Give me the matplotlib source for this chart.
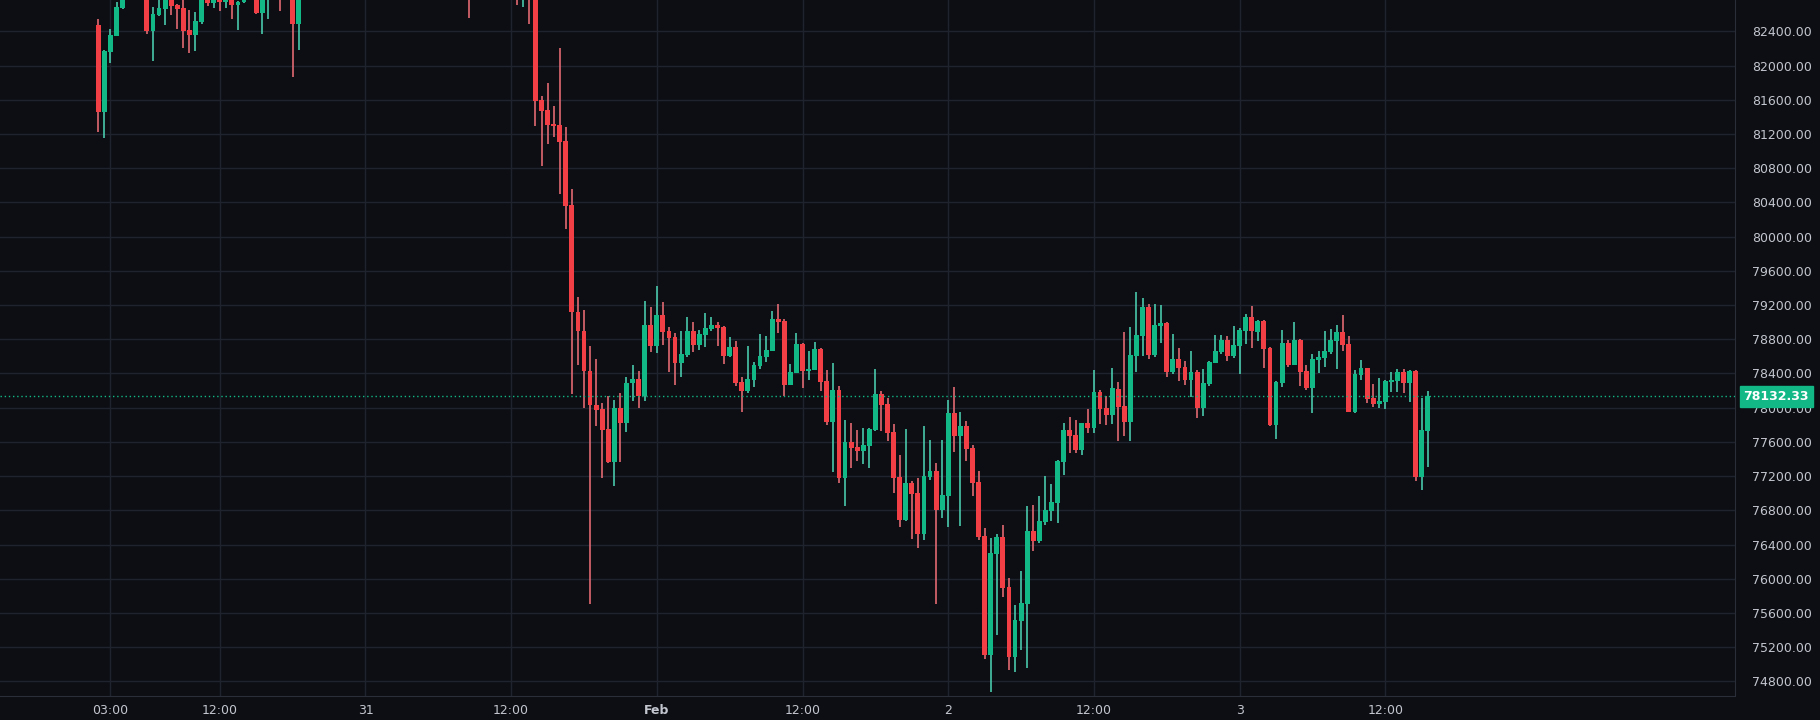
import matplotlib
matplotlib.use("Agg")
import matplotlib.pyplot as plt
import numpy as np

# 30-minute candles from Jan 30 02:00 to Feb 3 15:30 (index 0..219)
ohlc_rows = [
(82470,82540,81222,81456),(81456,82180,81152,82166),(82158,82423,82030,82353),(82345,82740,82340,82681),
(82670,83000,82660,82900),(82900,83150,82850,83050),(83050,83200,82900,82980),(82980,83100,82850,82900),
(82900,83000,82370,82400),(82400,82680,82050,82600),(82587,82800,82580,82670),(82657,82850,82470,82780),
(82790,82850,82587,82696),(82704,82720,82423,82657),(82670,82780,82205,82400),(82412,82646,82143,82353),
(82353,82622,82166,82517),(82505,82850,82482,82770),(82780,82850,82692,82727),(82727,82850,82670,82780),
(82790,82850,82634,82740),(82740,82850,82670,82790),(82790,82850,82540,82704),(82704,82760,82412,82740),
(82740,82900,82727,82820),(82820,82950,82800,82880),(82880,82950,82600,82610),(82610,82850,82365,82810),
(82810,82950,82540,82900),(82900,83050,82850,82980),(82980,83050,82634,82900),(82900,83000,82820,82920),
(82920,83000,81862,82482),(82482,82900,82178,82850),(82850,83000,82800,82950),(82950,83100,82900,83050),
(83050,83150,82980,83000),(83000,83120,82950,83080),(83080,83250,83050,83200),(83200,83300,83100,83150),
(83150,83250,83050,83100),(83100,83200,83000,83180),(83180,83350,83150,83300),(83300,83400,83200,83250),
(83250,83300,83100,83150),(83150,83250,83050,83200),(83200,83300,83100,83120),(83120,83200,83000,83050),
(83050,83150,82950,83100),(83100,83250,83050,83220),(83220,83300,83150,83180),(83180,83250,83050,83080),
(83080,83150,82950,83000),(83000,83100,82900,83060),(83060,83200,83000,83150),(83150,83250,83080,83100),
(83100,83150,82950,82980),(82980,83050,82880,82950),(82950,83080,82900,83020),(83020,83100,82920,82960),
(82960,83050,82850,82900),(82900,83000,82558,82850),(82850,82950,82800,82900),(82900,83000,82850,82950),
(82950,83050,82880,82920),(82920,83000,82850,82880),(82880,82950,82820,82900),(82900,82980,82830,82850),
(82850,82950,82800,82820),(82820,82900,82711,82765),(82765,82850,82687,82800),(82800,82850,82481,82765),
(82800,82850,81295,81591),(81596,81639,80826,81472),(81481,81797,81084,81309),(81314,81524,81161,81295),
(81304,82204,80500,81108),(81118,81280,80089,80357),(80366,80553,78156,79118),(79122,79299,78496,78893),
(78902,79146,77993,78424),(78433,78725,75706,78027),(78031,78572,77792,77979),(77984,78055,77180,77744),
(77749,78137,77357,77371),(77371,78089,77089,77993),(77998,78175,77371,77826),(77826,78362,77720,78290),
(78285,78505,78074,78338),(78338,78433,77993,78141),(78141,79242,78074,78972),(78972,79183,78648,78726),
(78726,79428,78637,79089),(79089,79230,78738,78890),(78902,78949,78418,78820),(78832,78878,78270,78528),
(78528,78902,78364,78633),(78621,79066,78598,78902),(78902,79007,78656,78738),(78738,78914,78680,78867),
(78855,79109,78715,78937),(78925,79066,78902,78972),(78972,79007,78726,78937),(78949,78960,78516,78609),
(78609,78832,78598,78715),(78715,78785,78258,78293),(78305,78364,77954,78200),(78200,78726,78177,78340),
(78329,78539,78247,78504),(78492,78867,78457,78609),(78598,78843,78539,78680),(78668,79136,78660,79042),
(79042,79218,78878,79007),(79019,79042,78141,78270),(78270,78516,78260,78422),(78410,78878,78400,78750),
(78750,78762,78235,78434),(78434,78668,78328,78457),(78446,78773,78440,78691),(78691,78703,78200,78305),
(78317,78446,77802,77837),(77837,78528,77250,78212),(78212,78258,77120,77180),(77180,77860,76850,77595),
(77595,77822,77300,77525),(77537,77744,77380,77490),(77491,77760,77339,77562),(77550,77760,77292,77749),
(77737,78450,77725,78158),(78158,78193,77725,78030),(78041,78111,77608,77702),(77714,77807,76999,77175),
(77187,77444,76602,76684),(76684,77749,76680,77117),(77117,77140,76462,76988),(76999,77175,76356,76520),
(76520,77784,76450,77199),(77187,77620,77152,77257),(77257,77351,75701,76801),(76801,77620,76707,76977),
(76965,78088,76602,77936),(77936,78240,77480,77667),(77667,77948,76614,77784),(77784,77842,77374,77515),
(77526,77562,76965,77117),(77129,77257,76450,76485),(76497,76590,75058,75104),(75104,76473,74672,76298),
(76286,76520,75339,76485),(76485,76626,75783,75888),(75900,76005,74929,75081),(75081,75690,74906,75514),
(75503,76087,75163,75713),(75701,76848,74952,76555),(76555,76860,76321,76438),(76438,76965,76415,76672),
(76661,77199,76626,76801),(76790,77105,76672,76895),(76883,77386,76649,77374),(77363,77819,77210,77737),
(77737,77889,77468,77667),(77679,77854,77468,77503),(77503,77819,77445,77819),(77819,77983,77702,77760),
(77760,78439,77702,78182),(78182,78205,77807,77983),(77994,78135,77796,77912),(77912,78462,77807,78228),
(78221,78303,77613,78010),(78022,78888,77671,77835),(77835,78946,77613,78619),(78607,79356,78420,78853),
(78841,79286,78607,79181),(79181,79216,78572,78619),(78619,79216,78595,78970),(78958,79204,78759,78993),
(78993,79000,78362,78420),(78420,78865,78397,78572),(78572,78701,78315,78467),(78479,78549,78268,78326),
(78326,78666,78127,78420),(78420,78443,77882,77999),(77999,78455,77905,78291),(78280,78549,78256,78537),
(78525,78853,78520,78666),(78654,78853,78631,78795),(78795,78841,78549,78607),(78607,78958,78584,78736),
(78724,78935,78397,78911),(78900,79099,78748,79064),(79064,79192,78701,78900),(78888,79028,78783,79017),
(79017,79020,78467,78689),(78701,78713,77788,77800),(77800,78310,77636,78303),(78291,78911,78245,78759),
(78759,78794,78479,78502),(78502,79005,78495,78794),(78794,78806,78256,78420),(78432,78502,78209,78233),
(78233,78631,77940,78572),(78560,78666,78408,78595),(78584,78900,78479,78666),(78654,78923,78631,78795),
(78783,78970,78455,78888),(78888,79087,78666,78736),(78748,78841,77952,77952),(77952,78443,77940,78397),
(78385,78560,78326,78467),(78467,78470,78057,78104),(78116,78280,78010,78046),(78046,78350,77999,78081),
(78069,78326,77987,78315),(78303,78420,78186,78326),(78315,78455,78186,78420),(78420,78455,78174,78291),
(78291,78435,78069,78432),(78432,78435,77145,77191),(77191,78116,77039,77742),(77730,78198,77308,78132.33),
]
opens = [r[0] for r in ohlc_rows]
highs = [r[1] for r in ohlc_rows]
lows = [r[2] for r in ohlc_rows]
closes = [r[3] for r in ohlc_rows]

tick_positions = [2, 20, 44, 68, 92, 116, 140, 164, 188, 212]
tick_labels = ["03:00", "12:00", "31", "12:00", "Feb", "12:00", "2", "12:00", "3", "12:00"]
price_ticks = list(range(74800, 82401, 400))
last_price = closes[-1]

BG = "#0c0e13"
GRID = "#1f232d"
TXT = "#c3c6ce"
UP, DOWN = "#12b886", "#f23f45"
UPW, DOWNW = "#4fd8b8", "#f2707a"

fig = plt.figure(figsize=(18.2, 7.2), dpi=100, facecolor=BG)
ax = fig.add_axes([0, 24/720, 1735/1820, 696/720], facecolor=BG)

o = np.array(opens); h = np.array(highs); l = np.array(lows); c = np.array(closes)
x = np.arange(len(o))
up = c >= o
ax.vlines(x[up], l[up], h[up], color=UPW, linewidth=1.1, zorder=2)
ax.vlines(x[~up], l[~up], h[~up], color=DOWNW, linewidth=1.1, zorder=2)
bot = np.minimum(o, c)
hgt = np.maximum(np.abs(c - o), 12)
ax.bar(x[up], hgt[up], bottom=bot[up], width=0.8, color=UP, zorder=3, linewidth=0)
ax.bar(x[~up], hgt[~up], bottom=bot[~up], width=0.8, color=DOWN, zorder=3, linewidth=0)

ax.set_xlim(-16.2, 269.6)
ax.set_ylim(74630, 82766)
ax.set_xticks(tick_positions)
ax.set_xticklabels(tick_labels)
for t in ax.get_xticklabels():
    if t.get_text() == "Feb":
        t.set_fontweight("bold")
ax.set_yticks(price_ticks)
ax.set_yticklabels([f"{p:.2f}" for p in price_ticks])
ax.yaxis.tick_right()
ax.tick_params(axis="both", colors=TXT, labelsize=9, length=0)
ax.tick_params(axis="y", pad=12)
ax.tick_params(axis="x", pad=6)
ax.grid(True, color=GRID, linewidth=1)
ax.set_axisbelow(True)
for s in ["top", "left"]:
    ax.spines[s].set_visible(False)
ax.spines["right"].set_color("#2a2e39")
ax.spines["bottom"].set_color("#2a2e39")

ax.axhline(last_price, color=UP, linestyle=(0, (1, 2)), linewidth=1, zorder=4)
ax.annotate(f"{last_price:.2f}", xy=(1.0, last_price), xycoords=("axes fraction", "data"),
            xytext=(6, 0), textcoords="offset points", va="center", ha="left",
            color="white", fontsize=9, fontweight="bold",
            bbox=dict(boxstyle="square,pad=0.3", fc=UP, ec=UP), annotation_clip=False)

fig.savefig("out.png", dpi=100, facecolor=BG)
